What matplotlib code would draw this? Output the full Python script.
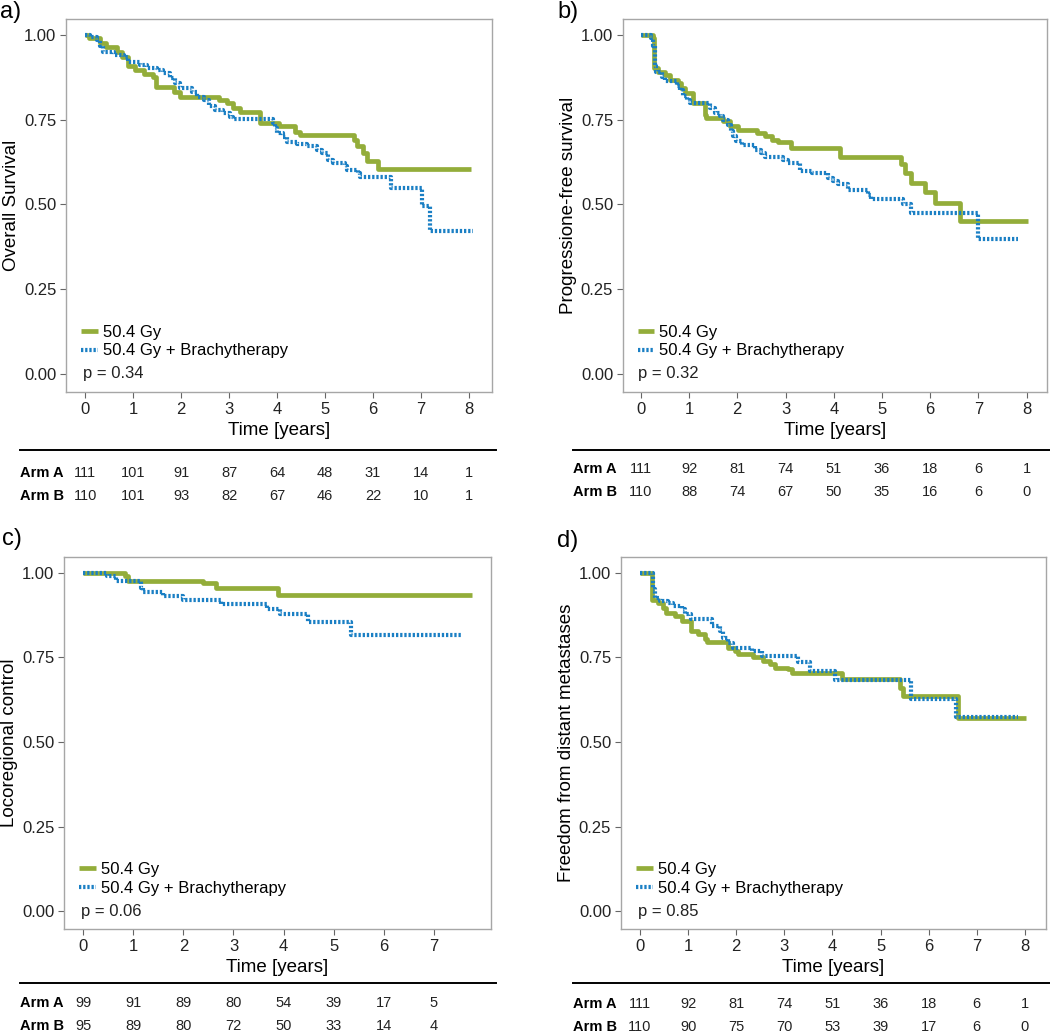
import matplotlib
matplotlib.use('Agg')
import matplotlib.pyplot as plt
from matplotlib.lines import Line2D
from matplotlib.transforms import blended_transform_factory
import numpy as np

plt.rcParams['font.family'] = ['Liberation Sans', 'DejaVu Sans']

GREEN = '#93ad3a'
BLUE = '#1a7fc4'

# ---- a) overall survival
a_t_arm_a = [0, 0.07, 0.30, 0.44, 0.67, 0.76, 0.90, 1.04, 1.22, 1.42, 1.48, 1.84, 1.98, 2.78, 2.95,
             3.09, 3.23, 3.65, 4.03, 4.38, 4.48, 5.60, 5.66, 5.80, 5.87, 6.11, 8.04]
a_s_arm_a = [1.0, 0.990, 0.977, 0.963, 0.951, 0.936, 0.909, 0.897, 0.885, 0.875, 0.846, 0.833, 0.818,
             0.808, 0.798, 0.784, 0.774, 0.739, 0.730, 0.715, 0.705, 0.690, 0.671, 0.651, 0.629, 0.605, 0.605]
a_t_arm_b = [0, 0.10, 0.24, 0.31, 0.38, 0.59, 0.80, 0.90, 1.15, 1.28, 1.49, 1.63, 1.77, 1.88, 1.98,
             2.22, 2.33, 2.47, 2.57, 2.71, 2.88, 3.02, 3.09, 3.92, 3.96, 3.99, 4.13, 4.20, 4.41, 4.62,
             4.83, 4.93, 5.07, 5.17, 5.42, 5.45, 5.69, 5.73, 6.37, 7.01, 7.19, 8.09]
a_s_arm_b = [1.0, 0.995, 0.985, 0.966, 0.951, 0.941, 0.936, 0.921, 0.912, 0.902, 0.897, 0.887, 0.872,
             0.857, 0.843, 0.833, 0.818, 0.808, 0.789, 0.779, 0.769, 0.759, 0.752, 0.739, 0.725, 0.710,
             0.700, 0.685, 0.678, 0.671, 0.661, 0.651, 0.631, 0.621, 0.612, 0.602, 0.592, 0.580, 0.548,
             0.494, 0.422, 0.422]
a_risk_a = [111, 101, 91, 87, 64, 48, 31, 14, 1]
a_risk_b = [110, 101, 93, 82, 67, 46, 22, 10, 1]

# ---- b) progression-free survival
b_t_arm_a = [0, 0.26, 0.28, 0.36, 0.50, 0.60, 0.77, 0.84, 0.91, 1.08, 1.33, 1.36, 1.71, 1.85, 2.02,
             2.40, 2.57, 2.71, 2.85, 3.12, 4.13, 5.40, 5.47, 5.61, 5.89, 6.10, 6.61, 8.02]
b_s_arm_a = [1.0, 0.990, 0.902, 0.892, 0.882, 0.868, 0.858, 0.843, 0.828, 0.799, 0.765, 0.755, 0.745,
             0.730, 0.721, 0.711, 0.701, 0.691, 0.683, 0.667, 0.639, 0.618, 0.593, 0.564, 0.536, 0.503,
             0.451, 0.451]
b_t_arm_b = [0, 0.22, 0.26, 0.29, 0.30, 0.32, 0.43, 0.50, 0.74, 0.81, 0.88, 0.95, 1.02, 1.43, 1.53,
             1.64, 1.71, 1.81, 1.88, 1.91, 1.98, 2.09, 2.36, 2.50, 2.57, 2.95, 3.05, 3.30, 3.54, 3.88,
             3.99, 4.09, 4.30, 4.71, 4.78, 5.44, 5.61, 6.99, 7.82]
b_s_arm_b = [1.0, 0.990, 0.966, 0.936, 0.907, 0.892, 0.877, 0.863, 0.848, 0.838, 0.819, 0.809, 0.799,
             0.784, 0.770, 0.760, 0.750, 0.735, 0.716, 0.701, 0.686, 0.676, 0.662, 0.652, 0.640, 0.630,
             0.621, 0.598, 0.593, 0.578, 0.569, 0.559, 0.544, 0.529, 0.515, 0.500, 0.475, 0.397, 0.397]
b_risk_a = [111, 92, 81, 74, 51, 36, 18, 6, 1]
b_risk_b = [110, 88, 74, 67, 50, 35, 16, 6, 0]

# ---- c) locoregional control
c_t_arm_a = [0, 0.83, 0.90, 2.39, 2.66, 3.89, 7.75]
c_s_arm_a = [1.0, 0.990, 0.977, 0.969, 0.954, 0.936, 0.936]
c_t_arm_b = [0, 0.47, 0.66, 1.16, 1.20, 1.60, 1.99, 2.76, 3.66, 3.92, 4.49, 5.35, 7.55]
c_s_arm_b = [1.0, 0.990, 0.977, 0.956, 0.944, 0.931, 0.919, 0.907, 0.894, 0.877, 0.856, 0.815, 0.815]
c_risk_a = [99, 91, 89, 80, 54, 39, 17, 5]
c_risk_b = [95, 89, 80, 72, 50, 33, 14, 4]

# ---- d) freedom from distant metastases
d_t_arm_a = [0, 0.24, 0.38, 0.48, 0.55, 0.73, 0.87, 1.07, 1.21, 1.35, 1.39, 1.84, 1.97, 2.04, 2.35,
             2.56, 2.70, 2.80, 3.08, 3.15, 4.19, 5.40, 5.47, 6.61, 8.02]
d_s_arm_a = [1.0, 0.921, 0.912, 0.897, 0.882, 0.872, 0.858, 0.828, 0.818, 0.804, 0.796, 0.779, 0.769,
             0.759, 0.750, 0.740, 0.730, 0.720, 0.715, 0.703, 0.686, 0.661, 0.637, 0.571, 0.571]
d_t_arm_b = [0, 0.28, 0.31, 0.42, 0.59, 0.69, 0.87, 0.93, 1.07, 1.49, 1.66, 1.73, 1.84, 1.94, 2.32,
             2.53, 3.29, 3.53, 4.05, 5.64, 6.56, 7.86]
d_s_arm_b = [1.0, 0.951, 0.926, 0.917, 0.912, 0.902, 0.892, 0.877, 0.864, 0.843, 0.828, 0.808, 0.794,
             0.779, 0.769, 0.754, 0.735, 0.710, 0.684, 0.627, 0.573, 0.573]
d_risk_a = [111, 92, 81, 74, 51, 36, 18, 6, 1]
d_risk_b = [110, 90, 75, 70, 53, 39, 17, 6, 0]

labels = ['50.4 Gy', '50.4 Gy + Brachytherapy']

panels = [
    dict(tag='a)', ylab='Overall Survival', p='p = 0.34',
         ta=a_t_arm_a, sa=a_s_arm_a, tb=a_t_arm_b, sb=a_s_arm_b, ra=a_risk_a, rb=a_risk_b,
         pos=[0.0629, 0.6202, 0.4057, 0.3614], xlim=(-0.40, 8.48), xticks=range(9),
         tagxy=(0.0, 0.988), line=(0.019, 0.472, 0.564), rows=(0.542, 0.519)),
    dict(tag='b)', ylab='Progressione-free survival', p='p = 0.32',
         ta=b_t_arm_a, sa=b_s_arm_a, tb=b_t_arm_b, sb=b_s_arm_b, ra=b_risk_a, rb=b_risk_b,
         pos=[0.5933, 0.6202, 0.4038, 0.3614], xlim=(-0.37, 8.42), xticks=range(9),
         tagxy=(0.531, 0.988), line=(0.546, 1.0, 0.564), rows=(0.546, 0.523)),
    dict(tag='c)', ylab='Locoregional control', p='p = 0.06',
         ta=c_t_arm_a, sa=c_s_arm_a, tb=c_t_arm_b, sb=c_s_arm_b, ra=c_risk_a, rb=c_risk_b,
         pos=[0.0610, 0.0998, 0.4067, 0.3605], xlim=(-0.38, 8.14), xticks=range(8),
         tagxy=(0.002, 0.478), line=(0.019, 0.472, 0.0475), rows=(0.028, 0.006)),
    dict(tag='d)', ylab='Freedom from distant metastases', p='p = 0.85',
         ta=d_t_arm_a, sa=d_s_arm_a, tb=d_t_arm_b, sb=d_s_arm_b, ra=d_risk_a, rb=d_risk_b,
         pos=[0.5914, 0.0998, 0.4048, 0.3605], xlim=(-0.395, 8.44), xticks=range(9),
         tagxy=(0.530, 0.476), line=(0.546, 1.0, 0.0475), rows=(0.027, 0.005)),
]

fig = plt.figure(figsize=(10.5, 10.32), dpi=100)

for pn in panels:
    ax = fig.add_axes(pn['pos'])
    ax.step(pn['ta'], pn['sa'], where='post', color=GREEN, lw=3.4, solid_capstyle='butt', label=labels[0])
    ax.step(pn['tb'], pn['sb'], where='post', color=BLUE, lw=3.0, linestyle=(0, (0.55, 0.45)),
            dash_capstyle='butt', label=labels[1])
    ax.set_xlim(*pn['xlim'])
    ax.set_ylim(-0.053, 1.047)
    ax.set_xticks(list(pn['xticks']))
    ax.set_yticks([0, 0.25, 0.5, 0.75, 1.0])
    ax.set_yticklabels(['0.00', '0.25', '0.50', '0.75', '1.00'])
    for s in ax.spines.values():
        s.set_color('#a6a6a6')
        s.set_linewidth(1.0)
    ax.tick_params(direction='out', length=4, width=0.8, color='#666666', labelsize=12,
                   labelcolor='#222222', pad=3)
    ax.set_xlabel('Time [years]', fontsize=13.5, labelpad=4)
    ax.set_ylabel(pn['ylab'], fontsize=13.5, labelpad=3)
    ax.legend(loc='lower left', bbox_to_anchor=(0.035, 0.09), frameon=False, fontsize=12,
              handlelength=1.0, handletextpad=0.3, labelspacing=0.2, borderpad=0, borderaxespad=0)
    ax.text(-0.05, 0.0, pn['p'], fontsize=12, va='center', ha='left', color='#222222')

    fig.text(pn['tagxy'][0], pn['tagxy'][1], pn['tag'], fontsize=17, ha='left', va='center')

    # numbers at risk
    x0, x1, yl = pn['line']
    fig.add_artist(Line2D([x0, x1], [yl, yl], transform=fig.transFigure, color='black', lw=1.4))
    tr = blended_transform_factory(ax.transData, fig.transFigure)
    for name, vals, yy in [('Arm A', pn['ra'], pn['rows'][0]), ('Arm B', pn['rb'], pn['rows'][1])]:
        fig.text(x0, yy, name, fontsize=10.5, fontweight='bold', ha='left', va='center')
        for k, v in enumerate(vals):
            ax.text(k, yy, str(v), transform=tr, fontsize=10.5, ha='center', va='center',
                    color='#222222', clip_on=False)

fig.savefig('out.png', dpi=100)
